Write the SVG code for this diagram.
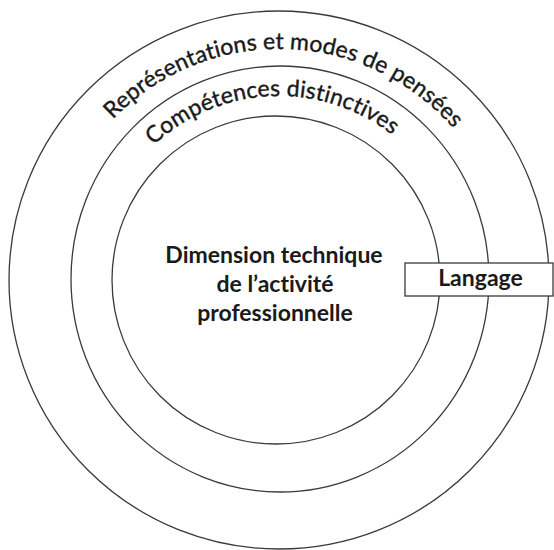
<svg xmlns="http://www.w3.org/2000/svg" width="554" height="550" viewBox="0 0 554 550">
<style>
.ring{fill:none;stroke:#3a3a3a;stroke-width:1.3}
.arc{font-family:Lato,"Open Sans","DejaVu Sans",sans-serif;font-size:23px;fill:#1a1a1a;stroke:#1a1a1a;stroke-width:0.4;font-variant-ligatures:none}
.ctr{font-family:Lato,"Open Sans","DejaVu Sans",sans-serif;font-size:23px;font-weight:bold;fill:#1a1a1a;text-anchor:middle;font-variant-ligatures:none}
</style>
<defs>
<path id="pOuter" d="M48,280 A231,231 0 0 1 510,280"/>
<path id="pInner" d="M95,280 A184,184 0 0 1 463,280"/>
</defs>
<rect width="554" height="550" fill="#ffffff"/>
<g id="outer-ring">
<ellipse class="ring" cx="279" cy="280" rx="270" ry="269"/>
<text class="arc" transform="rotate(1.5 279 280)"><textPath href="#pOuter" startOffset="50%" text-anchor="middle" textLength="383" lengthAdjust="spacing">Représentations et modes de pensées</textPath></text>
</g>
<g id="middle-ring">
<ellipse class="ring" cx="280" cy="279" rx="209" ry="213"/>
<text class="arc" transform="rotate(-2.5 279 280)"><textPath href="#pInner" startOffset="50%" text-anchor="middle" textLength="260" lengthAdjust="spacing">Compétences distinctives</textPath></text>
</g>
<g id="inner-ring">
<ellipse class="ring" cx="276" cy="280" rx="164" ry="164"/>
<text class="ctr" x="274" y="263">Dimension technique</text>
<text class="ctr" x="275" y="292">de l’activité</text>
<text class="ctr" x="275" y="321">professionnelle</text>
</g>
<g id="langage">
<rect x="405" y="263" width="148" height="33" fill="#ffffff" stroke="#3a3a3a" stroke-width="1.3"/>
<text class="ctr" x="480.5" y="286">Langage</text>
</g>
<g id="connectors"/>
</svg>
